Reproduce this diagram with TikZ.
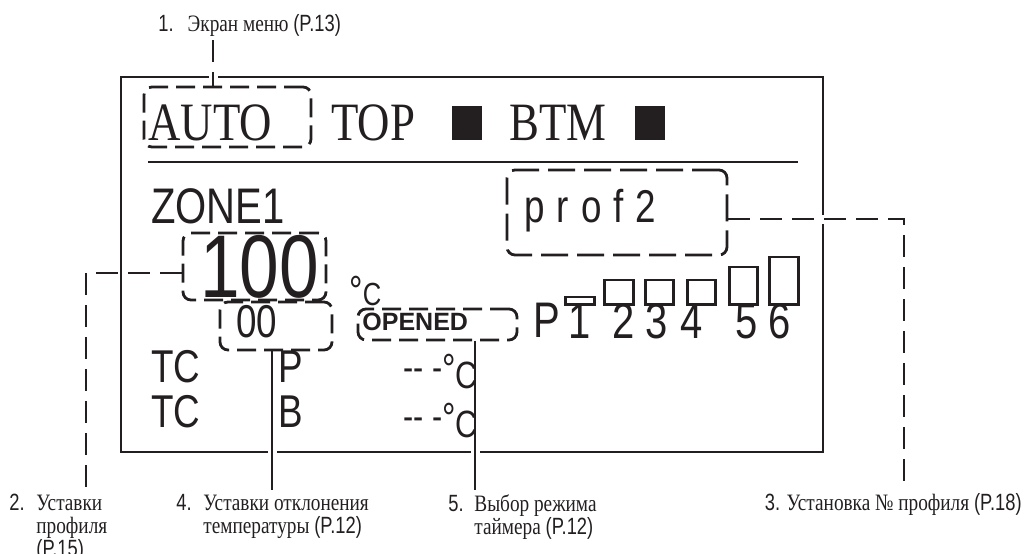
\documentclass[tikz,border=0pt]{standalone}
\usepackage{fontspec}
\usetikzlibrary{positioning,calc}
\definecolor{ink}{HTML}{231F20}
\newfontfamily\scrserif[FakeStretch=0.83]{Liberation Serif}
\newfontfamily\scrsans[FakeStretch=0.8]{Liberation Sans}
\newfontfamily\scrbold{Liberation Sans}
\newfontfamily\notefont[FakeStretch=0.82]{Liberation Serif}
\newfontfamily\notenum[FakeStretch=0.78]{Liberation Sans}
\newcommand\pxsize[1]{\fontsize{#1}{#1}\selectfont}
\newcommand\degsign[1]{\raisebox{#1}{\pxsize{42}°}}

\begin{document}
\begin{tikzpicture}[
  x=1pt, y=-1pt, color=ink, line width=2.8pt,
  txt/.style={inner sep=0pt, anchor=base west},
  dbox/.style={draw, rounded corners=8pt, dash pattern=on 19pt off 8pt, inner sep=0pt},
  lead/.style={dash pattern=on 22pt off 10pt},
  knock/.style={draw=white, line width=9pt},
  note/.style={inner sep=0pt, anchor=north west, align=left,
               font=\notefont\fontsize{23.5}{21}\selectfont},
  bar/.style={draw, fill=white, inner sep=0pt, line width=2.6pt,
              minimum width=28.5pt, anchor=south}]
\useasboundingbox (0,0) rectangle (1028,554);

% screen frame and separator
\node[draw, minimum width=702pt, minimum height=375pt, inner sep=0pt] (scr) at (472,264.5) {};
\draw (148,162) -- (798,162);

% top row
\node[txt, font=\scrserif\pxsize{54}] (auto) at (147,140) {AUTO};
\node[txt, font=\scrserif\pxsize{54}] (top) at (330,140) {TOP};
\node[fill=ink, minimum width=30pt, minimum height=34pt, inner sep=0pt] (sqt) at (467,123) {};
\node[txt, font=\scrserif\pxsize{54}] (btm) at (508,140) {BTM};
\node[fill=ink, minimum width=30pt, minimum height=34pt, inner sep=0pt] (sqb) at (650,123) {};
\node[dbox, minimum width=167pt, minimum height=60pt] (bauto) at (227.5,117) {};

% zone, set value, deviation
\node[txt, font=\scrsans\pxsize{50}] (zone) at (150,223) {ZONE1};
\node[txt, font=\scrsans\pxsize{89}] (t100) at (199,297) {100};
\node[txt, font=\scrsans\pxsize{32}] (deg) at (348,305) {\degsign{0pt}C};
\node[dbox, minimum width=143pt, minimum height=67pt] (b100) at (254.5,266.5) {};
\node[txt, font=\scrsans\pxsize{46}] (t00) at (235,337) {00};
\node[dbox, minimum width=112pt, minimum height=48pt] (b00) at (276,326) {};
\node[txt, font=\scrbold\bfseries\pxsize{25}] (open) at (361,330) {OPENED};
\node[dbox, minimum width=159pt, minimum height=31pt] (bopen) at (437.5,324.5) {};

% profile
\node[txt, font=\scrsans\pxsize{46}] (prof) at (523,222)
  {p\hspace{12pt}r\hspace{12pt}o\hspace{12pt}f\hspace{12pt}2};
\node[dbox, dash pattern=on 27pt off 9pt, minimum width=220pt, minimum height=85pt] (bprof) at (617,212.5) {};

% step bars
\node[txt, font=\scrsans\pxsize{50}] (pst) at (532,337) {P};
\foreach \d/\x/\bx/\h in {1/580/580/7.5, 2/624/619/24.5, 3/657/659.5/24.5,
                          4/692/701.5/24.5, 5/747/743.5/37.5, 6/780/784/47.5}
{
  \node[font=\scrsans\pxsize{50}, inner sep=0pt, anchor=base] (d\d) at (\x,338) {\d};
  \node[bar, minimum height=\h pt] (bar\d) at (\bx,305.7) {};
}

% thermocouples
\node[txt, font=\scrsans\pxsize{46}] (tc1) at (150,382) {TC};
\node[txt, font=\scrsans\pxsize{46}] (tcp) at (277,382) {P};
\node[txt, font=\scrsans\pxsize{38}] (tmp1) at (402,388) {\raisebox{8pt}{-{}- -}\degsign{5pt}C};
\node[txt, font=\scrsans\pxsize{46}] (tc2) at (150,427) {TC};
\node[txt, font=\scrsans\pxsize{46}] (tcb) at (277,427) {B};
\node[txt, font=\scrsans\pxsize{38}] (tmp2) at (402,437) {\raisebox{8pt}{-{}- -}\degsign{5pt}C};

% notes
\node[note, anchor=base west] (n1) at (157,31)
  {{\notenum 1.}\hspace{14pt}Экран меню {\notenum (P.13)}};
\node[note] (n2) at (8,493)
  {\begin{tabular}{@{}p{27pt}@{}l@{}}{\notenum 2.} & Уставки\\ & профиля\\ & {\notenum (P.15)}\end{tabular}};
\node[note] (n4) at (175,493)
  {\begin{tabular}{@{}p{27pt}@{}l@{}}{\notenum 4.} & Уставки отклонения\\ & температуры {\notenum (P.12)}\end{tabular}};
\node[note] (n5) at (447,493)
  {\begin{tabular}{@{}p{26pt}@{}l@{}}{\notenum 5.} & Выбор режима\\ & таймера {\notenum (P.12)}\end{tabular}};
\node[note, anchor=base east] (n3) at (1023,510)
  {{\notenum 3.} Установка № профиля {\notenum (P.18)}};

% leaders
\coordinate (k1) at (213,40);
\coordinate (k2) at (86,273);
\coordinate (k3) at (904,219);
\coordinate (k4) at (272,0);
\coordinate (k5) at (475,0);
\draw[knock] ($(k1 |- scr.north)+(0,-5)$) -- +(0,10);
\draw[knock] ($(k4 |- scr.south)+(0,-5)$) -- +(0,10);
\draw[knock] ($(k5 |- scr.south)+(0,-5)$) -- +(0,10);
\draw[knock] ($(scr.east |- k3)+(-5,0)$) -- +(10,0);
\draw[lead] (k1) -- (k1 |- bauto.north);
\draw[lead, shorten >=5pt] (b100.west |- k2) -- (k2) -- (k2 |- n2.north);
\draw[lead, shorten >=5pt] (bprof.east |- k3) -- (k3) -- (k3 |- n3.north);
\draw[shorten >=3pt] (b00.south -| k4) -- (k4 |- n4.north);
\draw[shorten >=3pt] (bopen.south -| k5) -- (k5 |- n5.north);
\end{tikzpicture}
\end{document}
